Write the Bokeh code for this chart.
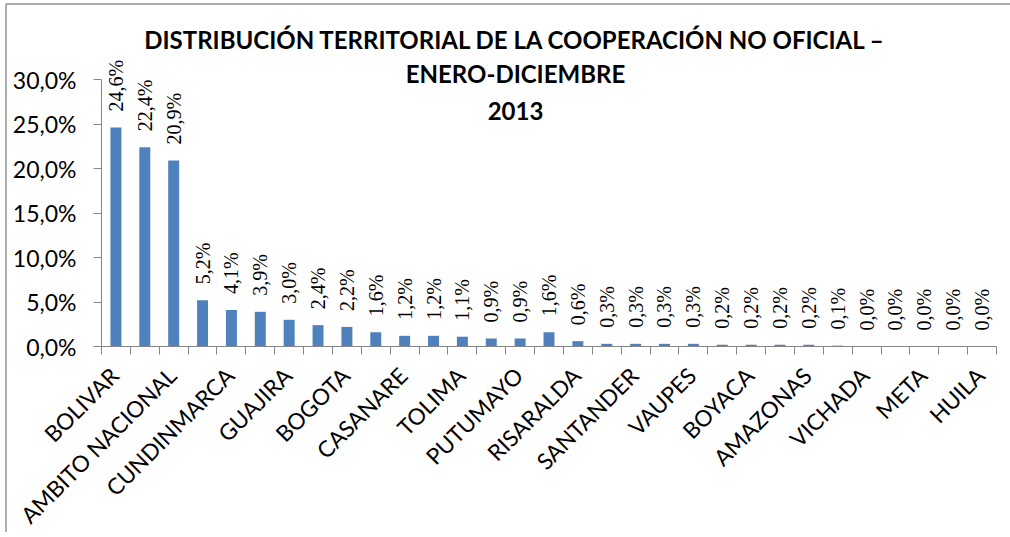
from math import pi
from bokeh.plotting import figure
from bokeh.models import ColumnDataSource, Range1d, FixedTicker, LabelSet, Label
from bokeh.embed import file_html
from bokeh.resources import INLINE

# ---- data ----
values = [24.6, 22.4, 20.9, 5.2, 4.1, 3.9, 3.0, 2.4, 2.2, 1.6, 1.2, 1.2, 1.1, 0.9, 0.9,
          1.6, 0.6, 0.3, 0.3, 0.3, 0.3, 0.2, 0.2, 0.2, 0.2, 0.1, 0.0, 0.0, 0.0, 0.0, 0.0]
shown_labels = ["BOLIVAR", "AMBITO NACIONAL", "CUNDINMARCA", "GUAJIRA", "BOGOTA", "CASANARE",
                "TOLIMA", "PUTUMAYO", "RISARALDA", "SANTANDER", "VAUPES", "BOYACA",
                "AMAZONAS", "VICHADA", "META", "HUILA"]
y_ticks = [0, 5, 10, 15, 20, 25, 30]
title_lines = ["DISTRIBUCIÓN TERRITORIAL DE LA COOPERACIÓN NO OFICIAL –",
               "ENERO-DICIEMBRE", "2013"]

FONT = "Lato"
BLUE = "#4F81BD"
GREY = "#868686"
BORDER = "#8c8c8c"

n = len(values)
xs = list(range(n))
val_text = [f"{v:.1f}%".replace(".", ",") for v in values]
src = ColumnDataSource(dict(x=xs, top=values, txt=val_text))

# layout (canvas pixels); the frame covers the whole canvas, axes sit at fixed locations
W, H = 1010, 532
AXIS_X = 101                          # canvas x of the y axis (category -0.5)
PLOT_W = 895                          # width of the category area
ZERO_Y = 346                          # canvas y of the 0 % line
PX_PER_UNIT = 267 / 30                # pixels per percentage point
PX_PER_CAT = PLOT_W / n


def dx(px):
    return -0.5 + (px - AXIS_X) / PX_PER_CAT


def dy(py):
    return (ZERO_Y - py) / PX_PER_UNIT


p = figure(width=W, height=H,
           min_border_left=0, min_border_right=0, min_border_top=0, min_border_bottom=0,
           x_range=Range1d(dx(0), dx(W)), y_range=Range1d(dy(H), dy(0)),
           output_backend="svg", toolbar_location=None, tools="")
p.outline_line_color = None
p.grid.visible = False
p.background_fill_color = "white"
p.border_fill_color = "white"

# chart-area border (top and left edges visible in the window)
p.segment(x0=[dx(5.5), dx(5.5)], y0=[dy(3.5), dy(3.5)], x1=[dx(W + 5), dx(5.5)], y1=[dy(3.5), dy(H + 5)],
          line_color=BORDER, line_width=1.4)

p.vbar(x="x", top="top", width=0.38, bottom=0, source=src, fill_color=BLUE, line_color=None)

labels = LabelSet(x="x", y="top", text="txt", source=src, angle=pi / 2,
                  text_align="left", text_baseline="middle", y_offset=16,
                  text_font=FONT, text_font_size="20px", text_color="black")
p.add_layout(labels)

# x axis (drawn at y = 0)
LABEL_SHIFT = -0.05
label_ticks = [round(2 * i + LABEL_SHIFT, 2) for i in range(len(shown_labels))]
xa = p.xaxis[0]
xa.fixed_location = 0
xa.bounds = (-0.5, n - 0.5)
xa.ticker = FixedTicker(ticks=label_ticks, minor_ticks=[i - 0.5 for i in range(n + 1)])
xa.major_label_overrides = {t: lab for t, lab in zip(label_ticks, shown_labels)}
xa.major_label_orientation = pi / 4
xa.major_tick_out = 0
xa.major_tick_in = 0
xa.minor_tick_out = 8
xa.minor_tick_in = 0
xa.minor_tick_line_color = GREY
xa.axis_line_color = GREY
xa.major_label_standoff = 17
xa.major_label_text_font = FONT
xa.major_label_text_font_size = "22.5px"
xa.major_label_text_color = "black"

# y axis (drawn at category -0.5)
ya = p.yaxis[0]
ya.fixed_location = -0.5
ya.bounds = (0, 30)
ya.ticker = FixedTicker(ticks=y_ticks, minor_ticks=[])
ya.major_label_overrides = {t: f"{t},0%" for t in y_ticks}
ya.major_tick_out = 8
ya.major_tick_in = 0
ya.major_tick_line_color = GREY
ya.axis_line_color = GREY
ya.major_label_standoff = 17
ya.major_label_text_font = FONT
ya.major_label_text_font_size = "23px"
ya.major_label_text_color = "black"

# title (three centred lines overlapping the plot top)
title_cx = 515            # x of the title centre
title_cy = [39, 73, 110]  # y of each line centre
for line, cy in zip(title_lines, title_cy):
    p.add_layout(Label(x=dx(title_cx), y=dy(cy),
                       text=line, text_align="center", text_baseline="middle",
                       text_font=FONT, text_font_style="bold", text_font_size="24px",
                       text_color="black"))

open("out.html", "w").write(file_html(p, INLINE))
